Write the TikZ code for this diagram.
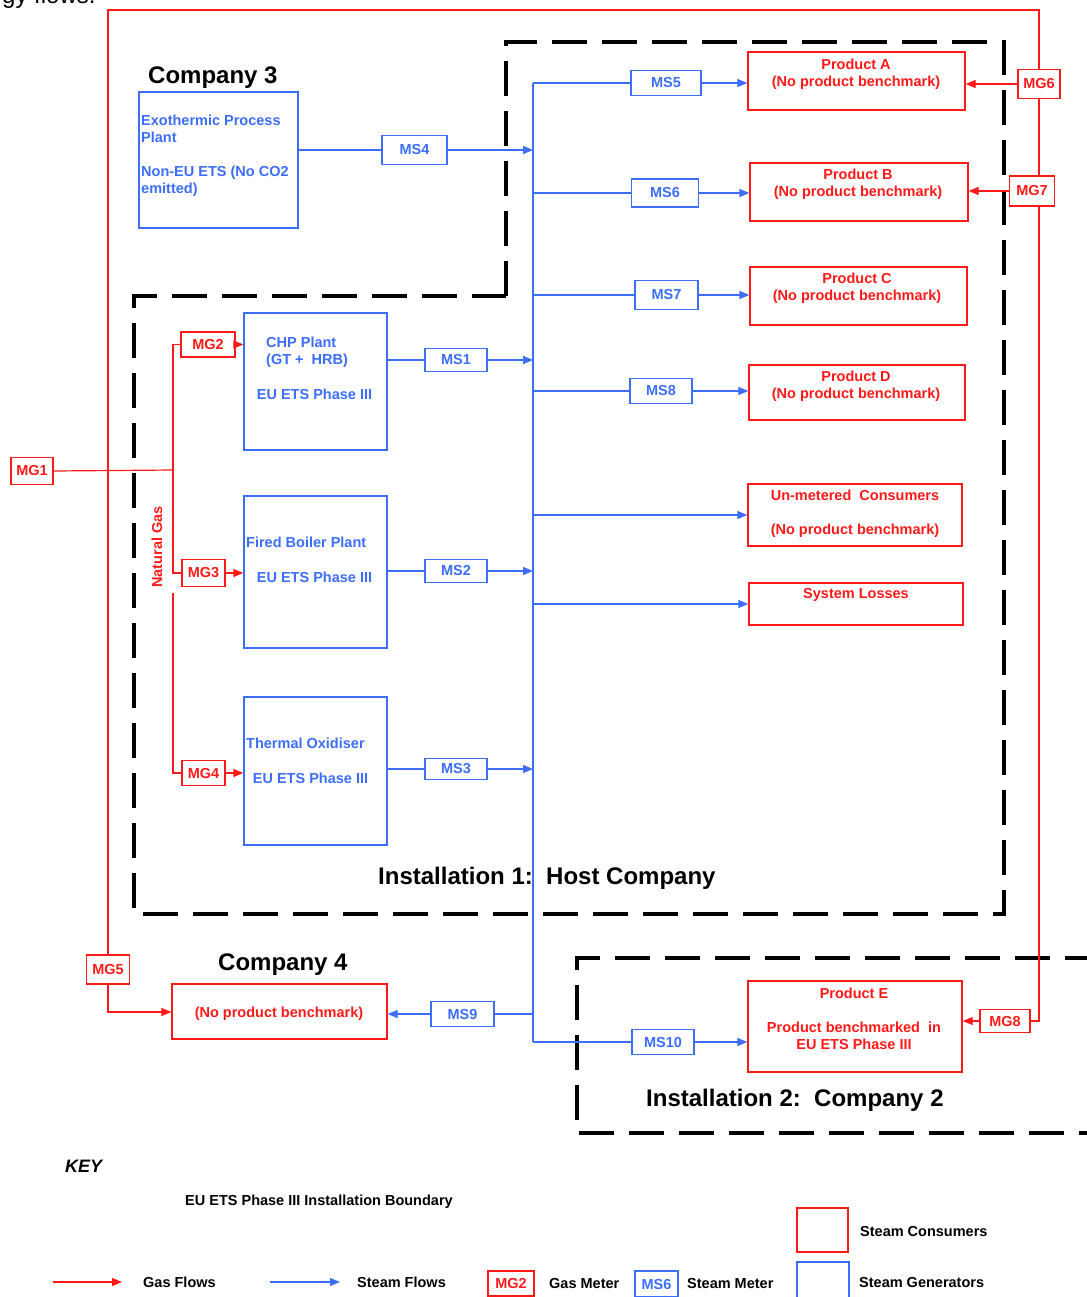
\documentclass[tikz,border=0pt]{standalone}
\usepackage{fontspec}
\setmainfont{Liberation Sans}
\usetikzlibrary{arrows.meta}

\definecolor{gasred}{RGB}{255,25,25}
\definecolor{steamblue}{RGB}{60,110,250}

\tikzset{
  gasline/.style={draw=gasred, line width=1.2pt},
  gasarrow/.style={gasline, -{Triangle[length=10pt,width=8pt]}},
  steamline/.style={draw=steamblue, line width=1.2pt},
  steamarrow/.style={steamline, -{Triangle[length=10pt,width=8pt]}},
  consumer/.style={draw=gasred, line width=1.3pt},
  generator/.style={draw=steamblue, line width=1.3pt},
  gasmeter/.style={draw=gasred, text=gasred, line width=1.3pt, minimum width=43pt, minimum height=27pt},
  steammeter/.style={draw=steamblue, text=steamblue, line width=1.3pt, minimum width=62pt, minimum height=25pt},
  redtxt/.style={text=gasred, align=center},
  bluetxt/.style={text=steamblue, align=left},
  heading/.style={font=\fontsize{24}{28}\bfseries\selectfont, anchor=base west},
  boundary/.style={line width=4.5pt, dash pattern=on 35pt off 15pt}
}

\begin{document}
\begin{tikzpicture}[x=1pt, y=-1pt, every node/.style={font=\fontsize{14.5}{17}\bfseries\selectfont, inner sep=0pt}]
\useasboundingbox (0,0) rectangle (1086,1297);

% caption line cut off at the top
\node[anchor=base west, font=\fontsize{24}{28}\selectfont] (caption) at (2,4) {gy flows.};

% installation boundaries
\draw[boundary] (506,296) -- (506,42) -- (1004,42) -- (1004,914) -- (134,914) -- (134,296) -- cycle;
\draw[boundary] (1100,958) -- (577,958) -- (577,1133) -- (1100,1133);

% titles
\node[heading] (co3title) at (148,84) {Company 3};
\node[heading] (co4title) at (218,970) {Company 4};
\node[heading] (inst1title) at (378,884.5) {Installation 1:\ \ Host Company};
\node[heading] (inst2title) at (646,1106.5) {Installation 2:\ \ Company 2};

% steam generators
\node[generator, minimum width=159pt, minimum height=136pt] (exo) at (218.5,160) {};
\node[bluetxt, anchor=north west] (exotxt) at (141,114.5) {Exothermic Process\\Plant\\[17pt]Non-EU ETS (No CO2\\emitted)};

\node[generator, minimum width=143pt, minimum height=137pt] (chp) at (315.5,381.5) {};
\node[bluetxt, anchor=north west] (chptxt) at (266,336.5) {CHP Plant\\(GT +\ \ HRB)};
\node[bluetxt] (chpets) at (314.5,394) {EU ETS Phase III};

\node[generator, minimum width=143pt, minimum height=152pt] (fbp) at (315.5,572) {};
\node[bluetxt, anchor=west] (fbptxt) at (246,542) {Fired Boiler Plant};
\node[bluetxt] (fbpets) at (314.5,577) {EU ETS Phase III};

\node[generator, minimum width=143pt, minimum height=148pt] (tox) at (315.5,771) {};
\node[bluetxt, anchor=west] (toxtxt) at (246,743) {Thermal Oxidiser};
\node[bluetxt] (toxets) at (310.5,778) {EU ETS Phase III};

% steam consumers
\node[consumer, minimum width=217pt, minimum height=58pt] (pa) at (856.5,81) {};
\node[redtxt] (patxt) at (856,74) {Product A\\(No product benchmark)};
\node[consumer, minimum width=218pt, minimum height=58pt] (pb) at (859,192) {};
\node[redtxt] (pbtxt) at (858,184) {Product B\\(No product benchmark)};
\node[consumer, minimum width=217pt, minimum height=58pt] (pc) at (858.5,296) {};
\node[redtxt] (pctxt) at (857,288) {Product C\\(No product benchmark)};
\node[consumer, minimum width=216pt, minimum height=55pt] (pd) at (857,392.5) {};
\node[redtxt] (pdtxt) at (856,386) {Product D\\(No product benchmark)};
\node[consumer, minimum width=214pt, minimum height=62pt] (um) at (855,515) {};
\node[redtxt] (umtxt) at (855,513.5) {Un-metered\ \ Consumers\\[17pt](No product benchmark)};
\node[consumer, minimum width=214pt, minimum height=42pt] (sl) at (856,604) {};
\node[redtxt] (sltxt) at (856,595) {System Losses};
\node[consumer, minimum width=215pt, minimum height=55pt] (co4) at (279.5,1011.5) {};
\node[redtxt] (co4txt) at (279,1013.5) {(No product benchmark)};
\node[consumer, minimum width=214pt, minimum height=91pt] (pe) at (855,1026.5) {};
\node[redtxt] (petxt) at (854,1018.5) {Product E\\[17pt]Product benchmarked\ \ in\\EU ETS Phase III};

% gas meters
\node[gasmeter, minimum width=42pt] (mg1) at (32,471) {MG1};
\node[gasmeter, minimum width=54pt, minimum height=25pt] (mg2) at (208,344.5) {MG2};
\node[gasmeter] (mg3) at (203.5,573) {MG3};
\node[gasmeter, minimum height=25pt] (mg4) at (203.5,773) {MG4};
\node[gasmeter, minimum height=29pt] (mg5) at (108,969.5) {MG5};
\node[gasmeter, minimum width=42pt, minimum height=29pt] (mg6) at (1039,84) {MG6};
\node[gasmeter, minimum width=45pt, minimum height=30pt] (mg7) at (1032,191) {MG7};
\node[gasmeter, minimum width=50pt, minimum height=23pt] (mg8) at (1005,1021) {MG8};

% steam meters
\node[steammeter, minimum width=65pt, minimum height=29pt] (ms4) at (414.5,150) {MS4};
\node[steammeter, minimum height=23pt] (ms1) at (456,360) {MS1};
\node[steammeter, minimum height=23pt] (ms2) at (456,571) {MS2};
\node[steammeter, minimum height=21pt] (ms3) at (456,769) {MS3};
\node[steammeter, minimum width=70pt] (ms5) at (666,83) {MS5};
\node[steammeter, minimum width=67pt, minimum height=28pt] (ms6) at (665,193) {MS6};
\node[steammeter, minimum width=63pt, minimum height=29pt] (ms7) at (666.5,295) {MS7};
\node[steammeter] (ms8) at (661,391) {MS8};
\node[steammeter, minimum width=63pt] (ms9) at (462.5,1014) {MS9};
\node[steammeter] (ms10) at (663,1042) {MS10};

\node[redtxt, rotate=90] (ngtxt) at (157,547) {Natural Gas};

% natural gas header
\coordinate (ngtop) at (173,344.5);
\coordinate (ngjoin) at (173,470);
\coordinate (ngmid) at (173,573);
\coordinate (nglow) at (173,593);
\coordinate (ngbot) at (173,773);
\draw[gasline] (mg1.east) -- (ngjoin);
\draw[gasline] (mg2.west) -- (ngtop) -- (ngmid) -- (mg3.west);
\draw[gasline] (nglow) -- (ngbot) -- (mg4.west);
\draw[gasarrow] (mg2.east) -- (mg2.east -| chp.west);
\draw[gasarrow] (mg3.east) -- (mg3.east -| fbp.west);
\draw[gasarrow] (mg4.east) -- (mg4.east -| tox.west);

% gas loop round the site
\coordinate (looplt) at (108,10);
\coordinate (looprt) at (1039,10);
\coordinate (looprb) at (1039,1021);
\coordinate (looplb) at (108,1012);
\draw[gasline] (mg5.north) -- (looplt) -- (looprt) -- (mg6.north);
\draw[gasline] (mg6.south) -- (mg6.south |- mg7.north);
\draw[gasline] (mg7.south -| mg6.south) -- (looprb) -- (mg8.east);
\draw[gasarrow] (mg6.west) -- (mg6.west -| pa.east);
\draw[gasarrow] (mg7.west) -- (mg7.west -| pb.east);
\draw[gasarrow] (mg8.west) -- (mg8.west -| pe.east);
\draw[gasarrow] (mg5.south) -- (looplb) -- (looplb -| co4.west);

% steam header
\coordinate (bustop) at (533,83);
\coordinate (busbot) at (533,1042);
\draw[steamline] (bustop) -- (busbot);
\draw[steamline] (exo.east |- ms4) -- (ms4.west);
\draw[steamarrow] (ms4.east) -- (ms4.east -| bustop);
\draw[steamline] (chp.east |- ms1) -- (ms1.west);
\draw[steamarrow] (ms1.east) -- (ms1.east -| bustop);
\draw[steamline] (fbp.east |- ms2) -- (ms2.west);
\draw[steamarrow] (ms2.east) -- (ms2.east -| bustop);
\draw[steamline] (tox.east |- ms3) -- (ms3.west);
\draw[steamarrow] (ms3.east) -- (ms3.east -| bustop);

\draw[steamline] (bustop) -- (ms5.west);
\draw[steamarrow] (ms5.east) -- (ms5.east -| pa.west);
\draw[steamline] (ms6.west -| bustop) -- (ms6.west);
\draw[steamarrow] (ms6.east) -- (ms6.east -| pb.west);
\draw[steamline] (ms7.west -| bustop) -- (ms7.west);
\draw[steamarrow] (ms7.east) -- (ms7.east -| pc.west);
\draw[steamline] (ms8.west -| bustop) -- (ms8.west);
\draw[steamarrow] (ms8.east) -- (ms8.east -| pd.west);
\draw[steamarrow] (um.west -| bustop) -- (um.west);
\draw[steamarrow] (sl.west -| bustop) -- (sl.west);
\draw[steamline] (ms9.east -| bustop) -- (ms9.east);
\draw[steamarrow] (ms9.west) -- (ms9.west -| co4.east);
\draw[steamline] (busbot) -- (ms10.west);
\draw[steamarrow] (ms10.east) -- (ms10.east -| pe.west);

% key
\node[anchor=west, font=\fontsize{18}{20}\bfseries\itshape\selectfont] (keyhead) at (65,1166) {KEY};
\node[anchor=west] (keybound) at (185,1202) {EU ETS Phase III Installation Boundary};
\coordinate (keygasa) at (53,1282);
\coordinate (keygasb) at (122,1282);
\draw[gasarrow] (keygasa) -- (keygasb);
\node[anchor=west] (keygastxt) at (143,1282) {Gas Flows};
\coordinate (keysteama) at (270,1282);
\coordinate (keysteamb) at (340,1282);
\draw[steamarrow] (keysteama) -- (keysteamb);
\node[anchor=west] (keysteamtxt) at (357,1282) {Steam Flows};
\node[gasmeter, minimum width=46pt, minimum height=25pt] (keymg) at (511,1283.5) {MG2};
\node[anchor=west] (keymgtxt) at (549,1283) {Gas Meter};
\node[steammeter, minimum width=43pt, minimum height=26pt] (keyms) at (656.5,1284) {MS6};
\node[anchor=west] (keymstxt) at (687,1283) {Steam Meter};
\node[consumer, minimum width=51pt, minimum height=44pt] (keycons) at (822.5,1230) {};
\node[anchor=west] (keyconstxt) at (860,1231) {Steam Consumers};
\node[generator, minimum width=52pt, minimum height=50pt] (keygen) at (823,1287) {};
\node[anchor=west] (keygentxt) at (859,1282) {Steam Generators};

\end{tikzpicture}
\end{document}
